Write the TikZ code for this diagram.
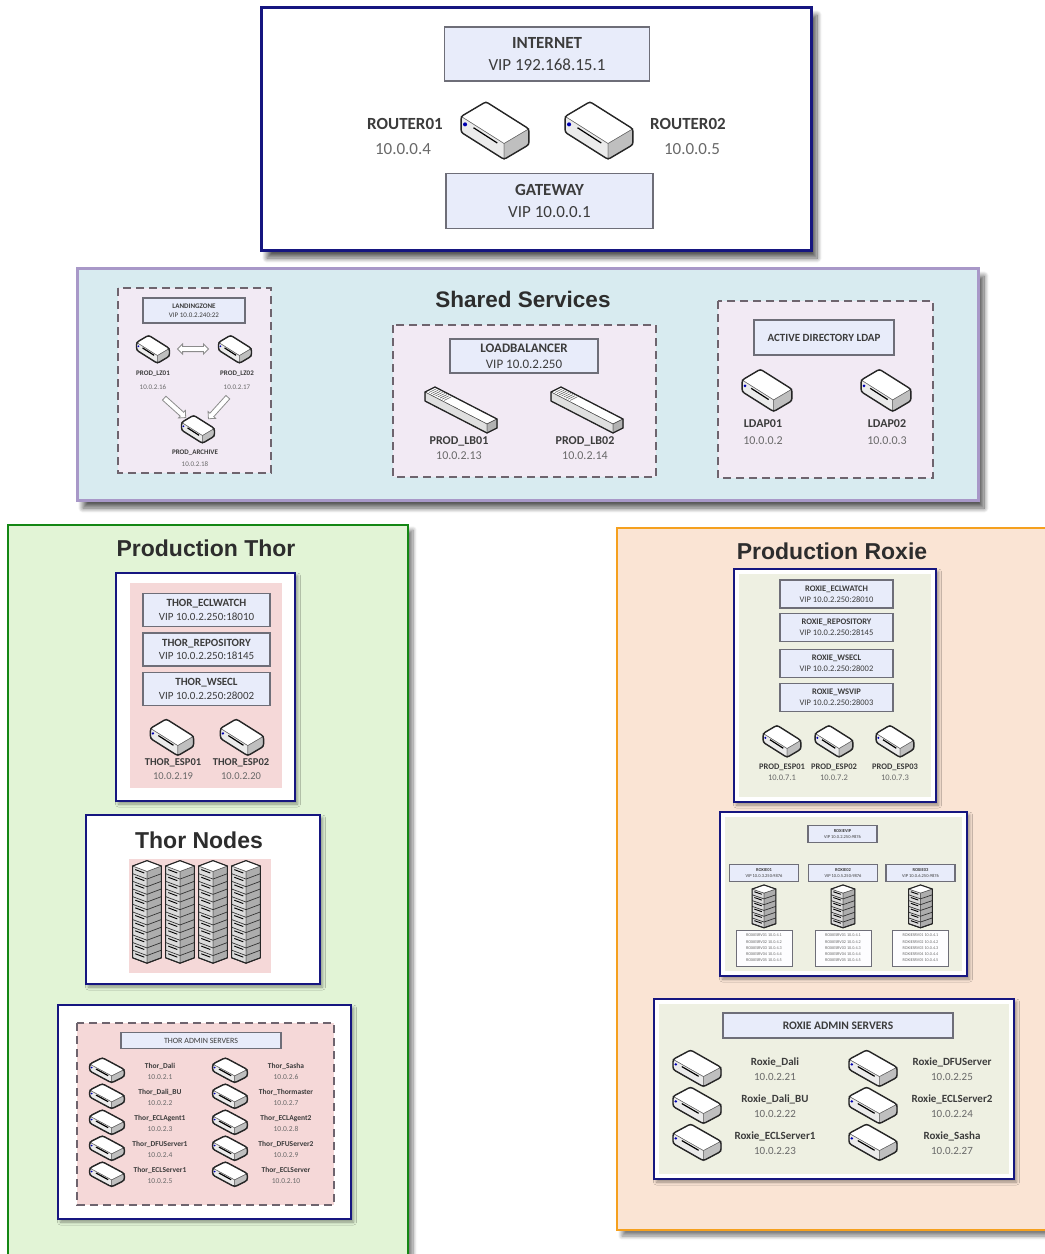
\documentclass[tikz,border=0pt]{standalone}
\usepackage{fontspec}
\setmainfont{Carlito}
\newfontfamily\titlefont{Liberation Sans}
\usetikzlibrary{shadows,shadows.blur,shapes.arrows}
\definecolor{navy}{RGB}{22,22,128}
\definecolor{boxline}{RGB}{110,110,120}
\definecolor{vipfill}{RGB}{232,236,250}
\definecolor{sharedfill}{RGB}{216,235,240}
\definecolor{sharedline}{RGB}{168,152,200}
\definecolor{areafill}{RGB}{242,234,244}
\definecolor{dashline}{RGB}{110,100,110}
\definecolor{thorfill}{RGB}{226,244,214}
\definecolor{thorline}{RGB}{20,135,20}
\definecolor{pinkfill}{RGB}{245,216,216}
\definecolor{roxfill}{RGB}{250,228,212}
\definecolor{roxline}{RGB}{245,160,30}
\definecolor{roxinner}{RGB}{238,240,226}
\definecolor{txt}{RGB}{60,60,60}
\definecolor{iptxt}{RGB}{105,105,105}
\definecolor{titletxt}{RGB}{45,45,45}
\newcommand\fsz[2]{\fontsize{#1}{#2}\selectfont}
\tikzset{
  pics/srv/.style={code={
    \filldraw[fill=white, draw=black!60, line width=0.5] (-30,-12) -- (-8,-25) -- (30,-1) -- (8,12) -- cycle;
    \filldraw[fill=black!8, draw=black!60, line width=0.5] (-30,-12) -- (8,12) -- (8,26) -- (-30,2) -- cycle;
    \filldraw[fill=black!25, draw=black!60, line width=0.5] (8,12) -- (30,-1) -- (30,13) -- (8,26) -- cycle;
    \draw[black!85, line width=1.4, line join=round, rounded corners=2.5] (-30,-12) -- (-8,-25) -- (30,-1) -- (30,13) -- (8,26) -- (-30,2) -- cycle;
    \draw[black, line width=1.2] (-19,-2) -- (2,11.5);
    \fill[blue!70!black] (-26.5,-5) circle (1.8);
  }},
  pics/lbsrv/.style={code={
    \filldraw[fill=white, draw=black!70, line width=0.5] (-36,-14) -- (-26,-19) -- (36,13) -- (26,18) -- cycle;
    \filldraw[fill=black!12, draw=black!70, line width=0.5] (-36,-14) -- (26,18) -- (26,27) -- (-36,-5) -- cycle;
    \filldraw[fill=black!30, draw=black!70, line width=0.5] (26,18) -- (36,13) -- (36,22) -- (26,27) -- cycle;
    \foreach \v in {0,...,7} {
      \draw[black!60, line width=0.6] ({-36+62*(0.04+0.035*\v)+1.5},{-14+32*(0.04+0.035*\v)-0.75}) -- ++(7,-3.5);
    }
    \draw[black!85, line width=1.3, line join=round] (-36,-14) -- (-26,-19) -- (36,13) -- (36,22) -- (26,27) -- (-36,-5) -- cycle;
  }},
  pics/tower/.style={code={
    \pgfmathsetmacro\towh{#1*8.5}
    \filldraw[fill=black!14, draw=black!70, line width=0.5] (-16,0) -- (0,6) -- (0,6+\towh) -- (-16,\towh) -- cycle;
    \filldraw[fill=black!32, draw=black!70, line width=0.5] (0,6) -- (16,0) -- (16,\towh) -- (0,6+\towh) -- cycle;
    \filldraw[fill=white, draw=black!70, line width=0.5] (-16,0) -- (0,-6) -- (16,0) -- (0,6) -- cycle;
    \foreach \k in {1,...,#1} {
      \pgfmathsetmacro\yy{\k*8.5}
      \draw[black!80, line width=0.7] (-16,\yy) -- (0,6+\yy) -- (16,\yy);
      \draw[black, line width=0.9] (-13,\yy-4.5) -- (-3,\yy-0.75);
    }
    \draw[black!85, line width=1.1, line join=round] (-16,0) -- (0,-6) -- (16,0) -- (16,\towh) -- (0,6+\towh) -- (-16,\towh) -- cycle;
  }},
  bigshadow/.style={blur shadow={shadow xshift=6pt, shadow yshift=-8pt, shadow blur radius=5pt, shadow blur steps=10, shadow opacity=65}},
  outerbox/.style={draw=navy, line width=3, fill=white, bigshadow},
  innerbox/.style={draw=navy, line width=2.5, fill=white, blur shadow={shadow xshift=2.5pt, shadow yshift=-3pt, shadow blur radius=3pt, shadow blur steps=6, shadow opacity=40}},
  sharedbox/.style={draw=sharedline, line width=3, fill=sharedfill, bigshadow},
  thorbox/.style={draw=thorline, line width=2.5, fill=thorfill, blur shadow={shadow xshift=5pt, shadow yshift=-5pt, shadow blur radius=4pt, shadow blur steps=8, shadow opacity=50}},
  roxbox/.style={draw=roxline, line width=2.5, fill=roxfill, blur shadow={shadow xshift=5pt, shadow yshift=-6pt, shadow blur radius=4pt, shadow blur steps=8, shadow opacity=50}},
  vip/.style={draw=boxline, line width=1.2, fill=vipfill, align=center, inner sep=0, text=txt},
  dasharea/.style={draw=dashline, line width=1.1, dash pattern=on 8pt off 5pt, fill=areafill},
  title/.style={font=\titlefont\bfseries\fsz{23}{26}, text=titletxt, inner sep=0},
  lab/.style={text=txt, inner sep=0},
  ipl/.style={text=iptxt, inner sep=0},
  hollowarrow/.style={draw=black!45, fill=white, inner sep=2.2pt, line width=0.8},
}
\begin{document}
\begin{tikzpicture}[x=1pt,y=-1pt]
\useasboundingbox (0,0) rectangle (1045,1254);

% ---------------- top box ----------------
\draw[outerbox] (261,7) rectangle (811,250);
\node[vip, minimum width=205, minimum height=54, font=\fsz{17}{22}] (inet) at (547,54) {\textbf{INTERNET}\\VIP 192.168.15.1};
\node[lab, font=\fsz{17}{20}\bfseries] (r1lbl) at (405,124) {ROUTER01};
\node[ipl, font=\fsz{17}{20}] (r1ip) at (403,149) {10.0.0.4};
\pic[scale=1.13] at (495,130) {srv};
\pic[scale=1.13] at (599,130) {srv};
\node[lab, font=\fsz{17}{20}\bfseries] (r2lbl) at (688,124) {ROUTER02};
\node[ipl, font=\fsz{17}{20}] (r2ip) at (692,149) {10.0.0.5};
\node[vip, minimum width=207, minimum height=55, font=\fsz{17}{22}] (gw) at (549.5,201) {\textbf{GATEWAY}\\VIP 10.0.0.1};

% ---------------- shared services ----------------
\draw[sharedbox] (77,268) rectangle (978,500);
\node[title, font=\titlefont\bfseries\fsz{22.5}{26}] (sstitle) at (523,299) {Shared Services};

% landing zone
\draw[dasharea] (118,288) rectangle (271,473);
\node[vip, minimum width=102, minimum height=25, font=\fsz{7}{9}] (lz) at (194,310.5) {\textbf{LANDINGZONE}\\VIP 10.0.2.240:22};
\pic[scale=0.55] at (153,349) {srv};
\pic[scale=0.55] at (235,349) {srv};
\node[double arrow, hollowarrow, minimum height=31, double arrow head extend=2.5pt] (lzsync) at (193,349) {};
\node[lab, font=\fsz{7}{8}\bfseries] (lz1lbl) at (153,374) {PROD\_LZ01};
\node[ipl, font=\fsz{7}{8}] (lz1ip) at (153,387) {10.0.2.16};
\node[lab, font=\fsz{7}{8}\bfseries] (lz2lbl) at (237,374) {PROD\_LZ02};
\node[ipl, font=\fsz{7}{8}] (lz2ip) at (237,387) {10.0.2.17};
\node[single arrow, hollowarrow, minimum height=29, single arrow head extend=2.5pt, rotate=-42] (arrl) at (174,407) {};
\node[single arrow, hollowarrow, minimum height=29, single arrow head extend=2.5pt, rotate=-132] (arrr) at (219,407) {};
\pic[scale=0.55] at (198,429) {srv};
\node[lab, font=\fsz{7}{8}\bfseries] (arclbl) at (195,453) {PROD\_ARCHIVE};
\node[ipl, font=\fsz{7}{8}] (arcip) at (195,464) {10.0.2.18};

% load balancer
\draw[dasharea] (393,325) rectangle (656,477);
\node[vip, minimum width=148, minimum height=34, font=\fsz{13}{16}] (lb) at (524,356) {\textbf{LOADBALANCER}\\VIP 10.0.2.250};
\pic at (461,406) {lbsrv};
\pic at (587,406) {lbsrv};
\node[lab, font=\fsz{12}{14}\bfseries] (lb1lbl) at (459,441) {PROD\_LB01};
\node[ipl, font=\fsz{12}{14}] (lb1ip) at (459,456) {10.0.2.13};
\node[lab, font=\fsz{12}{14}\bfseries] (lb2lbl) at (585,441) {PROD\_LB02};
\node[ipl, font=\fsz{12}{14}] (lb2ip) at (585,456) {10.0.2.14};

% ldap
\draw[dasharea] (718,301) rectangle (933,478);
\node[vip, minimum width=140, minimum height=35, font=\fsz{11}{13}\bfseries] (ad) at (824,337.5) {ACTIVE DIRECTORY LDAP};
\pic[scale=0.83] at (767,390) {srv};
\pic[scale=0.83] at (886,390) {srv};
\node[lab, font=\fsz{12}{14}\bfseries] (ld1lbl) at (763,424) {LDAP01};
\node[ipl, font=\fsz{12}{14}] (ld1ip) at (763,441) {10.0.0.2};
\node[lab, font=\fsz{12}{14}\bfseries] (ld2lbl) at (887,424) {LDAP02};
\node[ipl, font=\fsz{12}{14}] (ld2ip) at (887,441) {10.0.0.3};

% ---------------- production thor ----------------
\draw[thorbox] (8,525) rectangle (408,1262);
\node[title] (thortitle) at (206,548) {Production Thor};

\draw[innerbox] (116,573) rectangle (295,801);
\fill[pinkfill] (130,583) rectangle (282,788);
\node[vip, minimum width=127, minimum height=33, font=\fsz{11}{13.5}] (tew) at (206.5,610) {\textbf{THOR\_ECLWATCH}\\VIP 10.0.2.250:18010};
\node[vip, minimum width=127, minimum height=33, font=\fsz{11}{13.5}] (trep) at (206.5,649.5) {\textbf{THOR\_REPOSITORY}\\VIP 10.0.2.250:18145};
\node[vip, minimum width=127, minimum height=33, font=\fsz{11}{13.5}] (twsecl) at (206.5,689) {\textbf{THOR\_WSECL}\\VIP 10.0.2.250:28002};
\pic[scale=0.72] at (172,737) {srv};
\pic[scale=0.72] at (242,737) {srv};
\node[lab, font=\fsz{10.5}{12}\bfseries] (te1lbl) at (173,763) {THOR\_ESP01};
\node[ipl, font=\fsz{10.5}{12}] (te1ip) at (173,776) {10.0.2.19};
\node[lab, font=\fsz{10.5}{12}\bfseries] (te2lbl) at (241,763) {THOR\_ESP02};
\node[ipl, font=\fsz{10.5}{12}] (te2ip) at (241,776) {10.0.2.20};

\draw[innerbox] (86,815) rectangle (320,984);
\node[title] (tntitle) at (199,840) {Thor Nodes};
\fill[pinkfill] (129,859) rectangle (271,973);
\foreach \tx in {147,180,213,246} {
  \pic[scale=0.9] at (\tx,866) {tower=12};
}

\draw[innerbox] (58,1005) rectangle (351,1219);
\draw[dasharea, fill=pinkfill] (77,1023) rectangle (334,1205);
\node[vip, minimum width=160, minimum height=16, font=\fsz{8}{9}] (tas) at (201,1040.5) {THOR ADMIN SERVERS};
\foreach \n/\ip/\y [count=\i] in {Thor\_Dali/10.0.2.1/1070, Thor\_Dali\_BU/10.0.2.2/1096, Thor\_ECLAgent1/10.0.2.3/1122, Thor\_DFUServer1/10.0.2.4/1148, Thor\_ECLServer1/10.0.2.5/1174} {
  \pic[scale=0.58, yscale=0.85] at (107,\y) {srv};
  \node[lab, font=\fsz{7.5}{9}\bfseries] (tal\i) at (160,\y-4) {\n};
  \node[ipl, font=\fsz{7.5}{9}] (tali\i) at (160,\y+7) {\ip};
}
\foreach \n/\ip/\y [count=\i] in {Thor\_Sasha/10.0.2.6/1070, Thor\_Thormaster/10.0.2.7/1096, Thor\_ECLAgent2/10.0.2.8/1122, Thor\_DFUServer2/10.0.2.9/1148, Thor\_ECLServer/10.0.2.10/1174} {
  \pic[scale=0.58, yscale=0.85] at (230,\y) {srv};
  \node[lab, font=\fsz{7.5}{9}\bfseries] (tar\i) at (286,\y-4) {\n};
  \node[ipl, font=\fsz{7.5}{9}] (tari\i) at (286,\y+7) {\ip};
}

% ---------------- production roxie ----------------
\draw[roxbox] (617,528) rectangle (1052,1230);
\node[title] (roxtitle) at (832,551) {Production Roxie};

\draw[innerbox] (734,569) rectangle (936,802);
\fill[roxinner] (739,574) rectangle (931,797);
\foreach \nm/\ip/\y [count=\i] in {ROXIE\_ECLWATCH/VIP 10.0.2.250:28010/594, ROXIE\_REPOSITORY/VIP 10.0.2.250:28145/627.5, ROXIE\_WSECL/VIP 10.0.2.250:28002/663.5, ROXIE\_WSVIP/VIP 10.0.2.250:28003/697.5} {
  \node[vip, minimum width=113, minimum height=28, font=\fsz{8.5}{11}] (rtb\i) at (836.5,\y) {\textbf{\nm}\\\ip};
}
\foreach \x/\n/\ip [count=\i] in {782/PROD\_ESP01/10.0.7.1, 834/PROD\_ESP02/10.0.7.2, 895/PROD\_ESP03/10.0.7.3} {
  \pic[scale=0.63] at (\x,741) {srv};
  \node[lab, font=\fsz{8.5}{10}\bfseries] (rel\i) at (\x,767) {\n};
  \node[ipl, font=\fsz{8.5}{10}] (reli\i) at (\x,778) {\ip};
}

\draw[innerbox] (720,812) rectangle (967,976);
\fill[roxinner] (725,817) rectangle (962,971);
\node[vip, minimum width=69, minimum height=17, font=\fsz{4.5}{5.5}] (rvip) at (842.5,834) {\textbf{ROXIEVIP}\\VIP 10.0.2.250:9876};
\foreach \x/\n/\ip [count=\i] in {764/ROXIE01/VIP 10.0.3.250:9876, 843/ROXIE02/VIP 10.0.5.250:9876, 920.5/ROXIE03/VIP 10.0.6.250:9876} {
  \node[vip, minimum width=69, minimum height=17, font=\fsz{4.5}{5.5}] (rcl\i) at (\x,873) {\textbf{\n}\\\ip};
  \pic[scale=0.74, yscale=0.92] at (\x,889) {tower=6};
  \node[draw=boxline, line width=0.6, fill=white!92!vipfill, minimum width=56, minimum height=36, inner sep=0, align=left, font=\fsz{4.2}{6.3}, text=iptxt] (rls\i) at (\x,948) {ROXIESRV01 10.0.4.1\\ROXIESRV02 10.0.4.2\\ROXIESRV03 10.0.4.3\\ROXIESRV04 10.0.4.4\\ROXIESRV05 10.0.4.5};
}

\draw[innerbox] (654,999) rectangle (1014,1179);
\fill[roxinner] (659,1004) rectangle (1009,1174);
\node[vip, minimum width=230, minimum height=25, font=\fsz{11.5}{13}\bfseries] (ras) at (838,1025.5) {ROXIE ADMIN SERVERS};
\foreach \n/\ip/\y [count=\i] in {Roxie\_Dali/10.0.2.21/1068, Roxie\_Dali\_BU/10.0.2.22/1105, Roxie\_ECLServer1/10.0.2.23/1142} {
  \pic[scale=0.8, yscale=0.9] at (697,\y) {srv};
  \node[lab, font=\fsz{11}{13}\bfseries] (ral\i) at (775,\y-6) {\n};
  \node[ipl, font=\fsz{11}{13}] (rali\i) at (775,\y+9) {\ip};
}
\foreach \n/\ip/\y [count=\i] in {Roxie\_DFUServer/10.0.2.25/1068, Roxie\_ECLServer2/10.0.2.24/1105, Roxie\_Sasha/10.0.2.27/1142} {
  \pic[scale=0.8, yscale=0.9] at (873,\y) {srv};
  \node[lab, font=\fsz{11}{13}\bfseries] (rar\i) at (952,\y-6) {\n};
  \node[ipl, font=\fsz{11}{13}] (rari\i) at (952,\y+9) {\ip};
}
\end{tikzpicture}
\end{document}
